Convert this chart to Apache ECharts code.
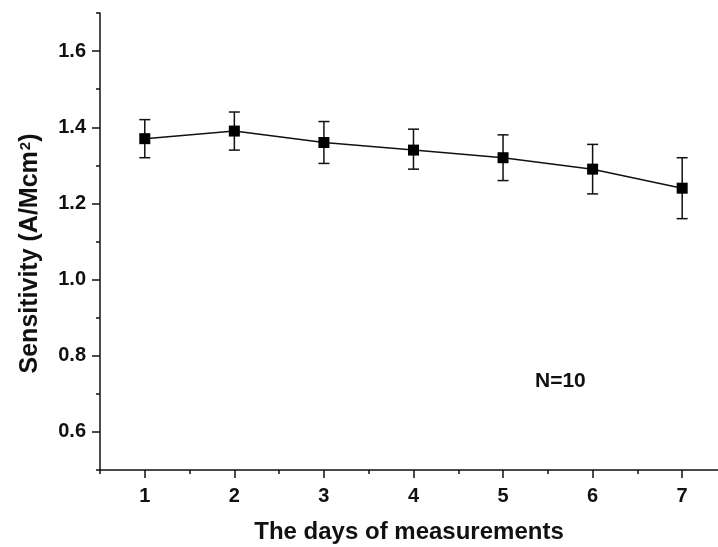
<!DOCTYPE html>
<html>
<head>
<meta charset="utf-8">
<script src="https://cdn.jsdelivr.net/npm/echarts@6/dist/echarts.min.js"></script>
<style>
  html, body { margin: 0; padding: 0; background: #fff; }
  #chart { width: 718px; height: 547px; }
</style>
</head>
<body>
<div id="chart"></div>
<script>
// values
const days = [1, 2, 3, 4, 5, 6, 7];
const sensitivity = [1.37, 1.39, 1.36, 1.34, 1.32, 1.29, 1.24];
const errUpper = [1.42, 1.44, 1.415, 1.395, 1.38, 1.355, 1.32];
const errLower = [1.32, 1.34, 1.305, 1.29, 1.26, 1.225, 1.16];

const xMajor = [1, 2, 3, 4, 5, 6, 7];
const xMinor = [0.5, 1.5, 2.5, 3.5, 4.5, 5.5, 6.5];
const yMajor = [0.6, 0.8, 1.0, 1.2, 1.4, 1.6];
const yMinor = [0.5, 0.7, 0.9, 1.1, 1.3, 1.5, 1.7];

const font = '"Liberation Sans", Arial, sans-serif';
const ink = '#111';

const chart = echarts.init(document.getElementById('chart'), null, { renderer: 'canvas' });

const lineData = days.map((d, i) => [d, sensitivity[i]]);
const errData = days.map((d, i) => [d, errLower[i], errUpper[i]]);

const tickLabel = {
  fontFamily: font,
  fontWeight: 'bold',
  fontSize: 20,
  color: ink
};

chart.setOption({
  animation: false,
  grid: { left: 100, right: 0, top: 13, bottom: 77, outerBoundsMode: 'none' },
  xAxis: [
    {
      type: 'value',
      min: 0.5,
      max: 7.4,
      axisLine: { lineStyle: { color: ink, width: 1.5 } },
      axisTick: { customValues: xMajor, length: 8, lineStyle: { color: ink, width: 1.5 } },
      axisLabel: Object.assign({ customValues: xMajor, margin: 16 }, tickLabel),
      splitLine: { show: false },
      name: 'The days of measurements',
      nameLocation: 'middle',
      nameGap: 50,
      nameTextStyle: { fontFamily: font, fontWeight: 'bold', fontSize: 24, color: ink }
    },
    {
      type: 'value',
      position: 'bottom',
      min: 0.5,
      max: 7.4,
      axisLine: { show: false },
      axisTick: { customValues: xMinor, length: 4, lineStyle: { color: ink, width: 1.5 } },
      axisLabel: { show: false },
      splitLine: { show: false }
    }
  ],
  yAxis: [
    {
      type: 'value',
      min: 0.5,
      max: 1.7,
      axisLine: { show: true, lineStyle: { color: ink, width: 1.5 } },
      axisTick: { show: true, customValues: yMajor, length: 8, lineStyle: { color: ink, width: 1.5 } },
      axisLabel: Object.assign({
        customValues: yMajor,
        margin: 14,
        formatter: v => v.toFixed(1)
      }, tickLabel),
      splitLine: { show: false },
      name: '{t|Sensitivity (A/Mcm}{s|2}{t|)}',
      nameLocation: 'middle',
      nameGap: 57,
      nameTextStyle: {
        padding: [0, 24, 0, 0],
        rich: {
          t: { fontFamily: font, fontWeight: 'bold', fontSize: 25, color: ink },
          s: { fontFamily: font, fontWeight: 'bold', fontSize: 15, color: ink, verticalAlign: 'top', padding: [0, 0, 10, 1] }
        }
      }
    },
    {
      type: 'value',
      position: 'left',
      min: 0.5,
      max: 1.7,
      axisLine: { show: false },
      axisTick: { show: true, customValues: yMinor, length: 4, lineStyle: { color: ink, width: 1.5 } },
      axisLabel: { show: false },
      splitLine: { show: false }
    }
  ],
  graphic: [
    {
      type: 'text',
      left: 535,
      top: 371,
      style: { text: 'N=10', font: 'bold 21px ' + font, fill: ink }
    }
  ],
  series: [
    {
      type: 'custom',
      name: 'error',
      data: errData,
      z: 3,
      renderItem: (params, api) => {
        const x = api.value(0);
        const top = api.coord([x, api.value(2)]);
        const bot = api.coord([x, api.value(1)]);
        const half = 5.5;
        const style = { stroke: ink, lineWidth: 1.5 };
        return {
          type: 'group',
          children: [
            { type: 'line', shape: { x1: top[0], y1: top[1], x2: bot[0], y2: bot[1] }, style },
            { type: 'line', shape: { x1: top[0] - half, y1: top[1], x2: top[0] + half, y2: top[1] }, style },
            { type: 'line', shape: { x1: bot[0] - half, y1: bot[1], x2: bot[0] + half, y2: bot[1] }, style }
          ]
        };
      }
    },
    {
      type: 'line',
      name: 'Sensitivity',
      data: lineData,
      z: 4,
      symbol: 'rect',
      symbolSize: 11,
      itemStyle: { color: '#000' },
      lineStyle: { color: ink, width: 1.5 }
    }
  ]
});
</script>
</body>
</html>
